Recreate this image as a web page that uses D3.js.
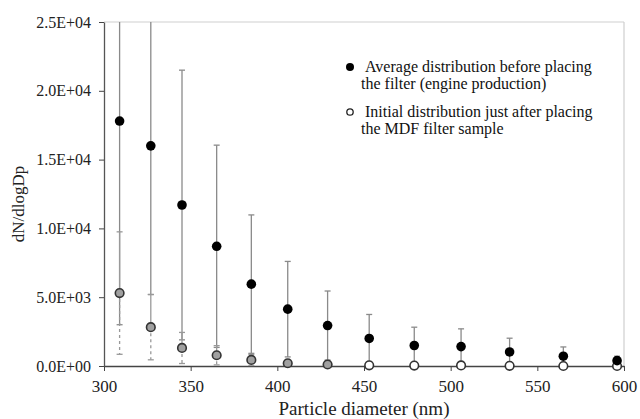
<!DOCTYPE html>
<html>
<head>
<meta charset="utf-8">
<script src="https://cdn.jsdelivr.net/npm/d3@7"></script>
<style>
  html, body { margin: 0; padding: 0; background: #fff; }
  svg { display: block; font-family: "Liberation Serif", "Times New Roman", serif; }
</style>
</head>
<body>
<svg id="chart" width="640" height="419"></svg>
<script>
// ---- data ----
const diameters = [309, 327, 345, 365, 385, 406, 429, 453, 479, 506, 534, 565, 596];
const avgMean   = [17800, 16000, 11700, 8700, 5950, 4130, 2940, 2000, 1490, 1410, 1020, 710, 390];
const avgErr    = [14800, 10800, 9800, 7350, 5030, 3470, 2510, 1745, 1330, 1290, 1000, 675, 320];
const initMean  = [5300, 2820, 1310, 780, 440, 200, 110, 50, 30, 40, 10, 0, 0];
const initErr   = [4450, 2370, 1130, 700, 400, 190, 90, 0, 0, 0, 0, 0, 0];
const xTicks = [300, 350, 400, 450, 500, 550, 600];
const yTicks = [0, 5000, 10000, 15000, 20000, 25000];
const yTickLabels = ["0.0E+00", "5.0E+03", "1.0E+04", "1.5E+04", "2.0E+04", "2.5E+04"];
const legendLabels = [
  ["Average distribution before placing", "the filter (engine production)"],
  ["Initial distribution just after placing", "the MDF filter sample"]
];

// ---- layout ----
const svg = d3.select("#chart");
const m = { left: 104, right: 624, top: 22, bottom: 366 };
const x = d3.scaleLinear().domain([300, 600]).range([m.left, m.right]);
const y = d3.scaleLinear().domain([0, 25000]).range([m.bottom, m.top]);

svg.append("defs").append("clipPath").attr("id", "clip")
  .append("rect").attr("x", m.left - 10).attr("y", m.top).attr("width", m.right - m.left + 20).attr("height", m.bottom - m.top + 10);

// plot frame (top and right light gray)
svg.append("line").attr("x1", m.left).attr("x2", m.right).attr("y1", m.top).attr("y2", m.top)
  .attr("stroke", "#cfcfcf").attr("stroke-width", 1.2);
svg.append("line").attr("x1", m.right).attr("x2", m.right).attr("y1", m.top).attr("y2", m.bottom)
  .attr("stroke", "#cfcfcf").attr("stroke-width", 1.2);

// axes
const xAxis = d3.axisBottom(x).tickValues(xTicks).tickSize(5).tickSizeOuter(0).tickFormat(d3.format("d"));
const gx = svg.append("g").attr("transform", `translate(0,${m.bottom})`).call(xAxis);
gx.select(".domain").attr("stroke", "#444").attr("stroke-width", 1.3);
gx.selectAll(".tick line").attr("stroke", "#444");
gx.selectAll(".tick text").attr("font-family", "Liberation Serif").attr("font-size", 17).attr("fill", "#222")
  .attr("y", 14);

const yAxis = d3.axisLeft(y).tickValues(yTicks).tickSize(5).tickSizeOuter(0)
  .tickFormat((d, i) => yTickLabels[i]);
const gy = svg.append("g").attr("transform", `translate(${m.left},0)`).call(yAxis);
gy.select(".domain").attr("stroke", "#555").attr("stroke-width", 1.3);
gy.selectAll(".tick line").attr("stroke", "#444");
gy.selectAll(".tick text").attr("font-family", "Liberation Serif").attr("font-size", 16).attr("fill", "#222").attr("x", -13);

// axis titles
svg.append("text").attr("x", 364).attr("y", 415)
  .attr("text-anchor", "middle").attr("font-size", 19).attr("fill", "#222")
  .text("Particle diameter (nm)");
svg.append("text").attr("transform", "translate(24,204) rotate(-90)")
  .attr("text-anchor", "middle").attr("font-size", 17).attr("fill", "#222")
  .text("dN/dlogDp");

const plot = svg.append("g").attr("clip-path", "url(#clip)");
const capW = 3;

// error bars: average series (solid, symmetric)
diameters.forEach((d, i) => {
  const g = plot.append("g").attr("stroke", "#8a8a8a").attr("stroke-width", 1.3);
  const hi = avgMean[i] + avgErr[i], lo = avgMean[i] - avgErr[i];
  g.append("line").attr("x1", x(d)).attr("x2", x(d)).attr("y1", y(hi)).attr("y2", y(lo));
  g.append("line").attr("x1", x(d) - capW).attr("x2", x(d) + capW).attr("y1", y(hi)).attr("y2", y(hi));
  g.append("line").attr("x1", x(d) - capW).attr("x2", x(d) + capW).attr("y1", y(lo)).attr("y2", y(lo));
});

// error bars: initial series (upper solid, lower dashed)
diameters.forEach((d, i) => {
  if (initErr[i] <= 0) return;
  const g = plot.append("g").attr("stroke", "#999").attr("stroke-width", 1.3);
  const hi = initMean[i] + initErr[i], lo = Math.max(0, initMean[i] - initErr[i]);
  g.append("line").attr("x1", x(d)).attr("x2", x(d)).attr("y1", y(hi)).attr("y2", y(initMean[i]));
  g.append("line").attr("x1", x(d)).attr("x2", x(d)).attr("y1", y(initMean[i])).attr("y2", y(lo))
    .attr("stroke-dasharray", "3,3");
  g.append("line").attr("x1", x(d) - capW).attr("x2", x(d) + capW).attr("y1", y(hi)).attr("y2", y(hi));
  g.append("line").attr("x1", x(d) - capW).attr("x2", x(d) + capW).attr("y1", y(lo)).attr("y2", y(lo));
});

// initial series markers
plot.selectAll("circle.init").data(diameters).join("circle").attr("class", "init")
  .attr("cx", d => x(d)).attr("cy", (d, i) => y(initMean[i])).attr("r", 4.3)
  .attr("fill", (d, i) => initErr[i] > 0 ? "#a0a0a0" : "#fff")
  .attr("stroke", "#333").attr("stroke-width", 1.6);

// average series markers
plot.selectAll("circle.avg").data(diameters).join("circle").attr("class", "avg")
  .attr("cx", d => x(d)).attr("cy", (d, i) => y(avgMean[i])).attr("r", 4.8)
  .attr("fill", "#000");

// legend
const lg = svg.append("g");
lg.append("circle").attr("cx", 350).attr("cy", 67).attr("r", 4).attr("fill", "#000");
lg.append("circle").attr("cx", 350).attr("cy", 112).attr("r", 3.2).attr("fill", "#fff").attr("stroke", "#222").attr("stroke-width", 1.3);
const lgY = [72, 117];
legendLabels.forEach((lines, k) => {
  lg.append("text").attr("x", 365).attr("y", lgY[k]).attr("font-size", 16).attr("fill", "#111").text(lines[0]);
  lg.append("text").attr("x", 361).attr("y", lgY[k] + 17).attr("font-size", 16).attr("fill", "#111").text(lines[1]);
});
</script>
</body>
</html>
